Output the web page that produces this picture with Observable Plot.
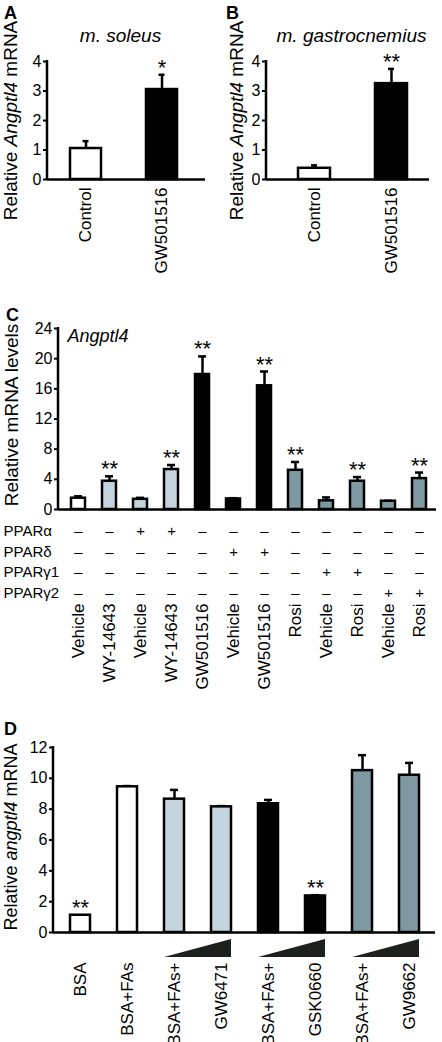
<!DOCTYPE html>
<html><head><meta charset="utf-8">
<script src="https://cdn.jsdelivr.net/npm/d3@7"></script>
<script src="https://cdn.jsdelivr.net/npm/@observablehq/plot@0.6"></script>
<style>
body{margin:0;background:#fff;}
#fig{position:relative;width:442px;height:1042px;overflow:hidden;background:#fff;font-family:"Liberation Sans",Arial,sans-serif;}
#fig svg{position:absolute;}
</style></head><body><div id="fig"></div>
<script>
// ---------- data ----------
const aLabels = ["Control", "GW501516"];
const aValues = [1.05, 3.05];
const aErrTops = [1.3, 3.55];
const aStars = ["", "*"];
const aGroups = ["none", "delta"];

const bLabels = ["Control", "GW501516"];
const bValues = [0.38, 3.25];
const bErrTops = [0.48, 3.75];
const bStars = ["", "**"];
const bGroups = ["none", "delta"];
const abTicks = [0, 1, 2, 3, 4];

const cLabels = ["Vehicle","WY-14643","Vehicle","WY-14643","GW501516","Vehicle","GW501516","Rosi","Vehicle","Rosi","Vehicle","Rosi"];
const cValues = [1.5, 3.75, 1.35, 5.3, 17.9, 1.4, 16.4, 5.2, 1.15, 3.75, 1.1, 4.1];
const cErrTops = [1.75, 4.4, 1.55, 5.9, 20.3, 1.5, 18.3, 6.3, 1.6, 4.3, 1.15, 4.9];
const cStars = ["","**","","**","**","","**","**","","**","","**"];
const cGroups = ["none","alpha","alpha","alpha","delta","delta","delta","gamma","gamma","gamma","gamma","gamma"];
const cRows = ["PPARα", "PPARδ", "PPARγ1", "PPARγ2"];
const cSigns = [
  ["–","–","+","+","–","–","–","–","–","–","–","–"],
  ["–","–","–","–","–","+","+","–","–","–","–","–"],
  ["–","–","–","–","–","–","–","–","+","+","–","–"],
  ["–","–","–","–","–","–","–","–","–","–","+","+"]
];
const cTicks = [0, 4, 8, 12, 16, 20, 24];

const dLabels = ["BSA","BSA+FAs","BSA+FAs+","GW6471","BSA+FAs+","GSK0660","BSA+FAs+","GW9662"];
const dValues = [1.12, 9.45, 8.65, 8.15, 8.35, 2.37, 10.5, 10.2];
const dErrTops = [1.12, 9.5, 9.25, 8.2, 8.6, 2.42, 11.5, 11.0];
const dStars = ["**","","","","","**","",""];
const dGroups = ["none","none","alpha","alpha","delta","delta","gamma","gamma"];
const dRamps = [[2, 3], [4, 5], [6, 7]];
const dTicks = [0, 2, 4, 6, 8, 10, 12];

const groupFill = {none: "#ffffff", alpha: "#c4d4de", delta: "#000000", gamma: "#7f99a3"};
const FONT = "'Liberation Sans', Arial, sans-serif";

// ---------- helpers ----------
const yAxisLine = (index, scales, values, dims) => {
  const g = d3.create("svg:g");
  g.append("line")
    .attr("x1", dims.marginLeft).attr("x2", dims.marginLeft)
    .attr("y1", dims.marginTop - 1).attr("y2", dims.height - dims.marginBottom)
    .attr("stroke", "#000").attr("stroke-width", 2.5);
  return g.node();
};

function italicize(svg, full, word) {
  const ns = "http://www.w3.org/2000/svg";
  svg.querySelectorAll("text").forEach(t => {
    if (t.textContent === full) {
      const [pre, post] = full.split(word);
      t.textContent = "";
      [[pre, false], [word, true], [post, false]].forEach(([s, it]) => {
        const ts = document.createElementNS(ns, "tspan");
        ts.textContent = s;
        if (it) ts.setAttribute("font-style", "italic");
        t.appendChild(ts);
      });
    }
  });
}

function barPanel(cfg) {
  const {labels, values, errTops, stars, groups, ticks, yMax, width, height,
    ml, mr, mt, mb, pInner, pOuter, align, capW, labelDy, extra = [],
    starSize = 22, tickFont = 16, labelFont = 17} = cfg;
  const rows = labels.map((label, i) => ({i, label, value: values[i], err: errTops[i], star: stars[i], fill: groupFill[groups[i]]}));
  const n = rows.length, L = width - ml - mr;
  const step = L / (n - pInner + 2 * pOuter), bw = step * (1 - pInner);
  const inset = Math.max(0, (bw - capW) / 2);
  const withErr = rows.filter(d => d.err > d.value);
  return Plot.plot({
    width, height, marginLeft: ml, marginRight: mr, marginTop: mt, marginBottom: mb,
    style: {fontFamily: FONT, fontSize: "16px", color: "#000", background: "transparent", overflow: "visible"},
    x: {type: "band", domain: d3.range(n), paddingInner: pInner, paddingOuter: pOuter, align, axis: null},
    y: {domain: [0, yMax]},
    color: {type: "identity"},
    marks: [
      Plot.ruleX(withErr, {x: "i", y1: "value", y2: "err", stroke: "#000", strokeWidth: 2.5}),
      Plot.tickY(withErr, {x: "i", y: "err", stroke: "#000", strokeWidth: 2.5, insetLeft: inset, insetRight: inset}),
      Plot.barY(rows, {x: "i", y: "value", fill: "fill", stroke: "#000", strokeWidth: 2.5}),
      Plot.text(rows.filter(d => d.star), {x: "i", y: "err", text: "star", lineAnchor: "middle", dy: -7, fontSize: starSize, fill: "#000"}),
      Plot.text(rows, {x: "i", text: "label", frameAnchor: "bottom", lineAnchor: "middle", rotate: -90, textAnchor: "end", dy: labelDy, fontSize: labelFont, fill: "#000"}),
      Plot.ruleY([0], {stroke: "#000", strokeWidth: 2.5}),
      yAxisLine,
      Plot.axisY({ticks, tickSize: 4, tickPadding: 2, strokeWidth: 2, fontSize: tickFont, label: null, tickFormat: d => String(d)}),
      ...extra
    ]
  });
}

function place(svg, left, top) {
  svg.style.left = left + "px";
  svg.style.top = top + "px";
  document.getElementById("fig").appendChild(svg);
}

const letter = (s, dx, dy) => Plot.text([s], {frameAnchor: "top-left", textAnchor: "middle", lineAnchor: "middle", dx, dy, fontSize: 18, fontWeight: "bold", fill: "#000"});
const yLabel = (s, dx, dy, size) => Plot.text([s], {frameAnchor: "left", textAnchor: "middle", lineAnchor: "middle", rotate: -90, dx, dy, fontSize: size, fill: "#000"});

// ---------- Panel A ----------
const svgA = barPanel({
  labels: aLabels, values: aValues, errTops: aErrTops, stars: aStars, groups: aGroups,
  ticks: abTicks, yMax: 4, width: 221, height: 285, ml: 47, mr: 16, mt: 61, mb: 106,
  pInner: 0.597, pOuter: 0.3245, align: 0.45, capW: 6, labelDy: 8,
  extra: [
    letter("A", -37, -48),
    Plot.text(["m. soleus"], {frameAnchor: "top", lineAnchor: "middle", dx: -6, dy: -26, fontSize: 19, fontStyle: "italic", fill: "#000"}),
    yLabel("Relative Angptl4 mRNA", -37, 0, 19)
  ]
});
italicize(svgA, "Relative Angptl4 mRNA", "Angptl4");
place(svgA, 0, 0);

// ---------- Panel B ----------
const svgB = barPanel({
  labels: bLabels, values: bValues, errTops: bErrTops, stars: bStars, groups: bGroups,
  ticks: abTicks, yMax: 4, width: 221, height: 285, ml: 45, mr: 13, mt: 61, mb: 106,
  pInner: 0.584, pOuter: 0.35, align: 0.59, capW: 6, labelDy: 8,
  extra: [
    letter("B", -34, -48),
    Plot.text(["m. gastrocnemius"], {frameAnchor: "top", lineAnchor: "middle", dx: 3.5, dy: -26, fontSize: 19, fontStyle: "italic", fill: "#000"}),
    yLabel("Relative Angptl4 mRNA", -30, 0, 19)
  ]
});
italicize(svgB, "Relative Angptl4 mRNA", "Angptl4");
place(svgB, 221, 0);

// ---------- Panel C ----------
const signRowDy = [22, 43, 63, 84];
const cSignMarks = cRows.flatMap((row, r) => [
  Plot.text([row], {frameAnchor: "bottom-left", textAnchor: "start", lineAnchor: "middle", dx: -55, dy: signRowDy[r], fontSize: 15, fill: "#000"}),
  Plot.text(cSigns[r].map((s, i) => ({i, s})), {x: "i", text: "s", frameAnchor: "bottom", lineAnchor: "middle", dy: signRowDy[r], fontSize: 15, fill: "#000"})
]);
const svgC = barPanel({
  labels: cLabels, values: cValues, errTops: cErrTops, stars: cStars, groups: cGroups,
  ticks: cTicks, yMax: 24, width: 442, height: 410, ml: 58, mr: 6, mt: 38, mb: 191,
  pInner: 0.555, pOuter: 0.287, align: 0.55, capW: 8, labelDy: 94,
  extra: [
    letter("C", -46, -13),
    Plot.text(["Angptl4"], {frameAnchor: "top-left", textAnchor: "start", lineAnchor: "middle", dx: 9, dy: 8, fontSize: 18, fontStyle: "italic", fill: "#000"}),
    yLabel("Relative mRNA levels", -47, -4, 19),
    ...cSignMarks
  ]
});
place(svgC, 0, 290);

// ---------- Panel D ----------
const wedges = (index, scales, values, dims) => {
  const g = d3.create("svg:g");
  const x = scales.x, bw = x.bandwidth();
  const yb = dims.height - dims.marginBottom;
  for (const [a, b] of dRamps) {
    const x0 = x(a), x1 = x(b) + bw;
    g.append("polygon")
      .attr("points", `${x0},${yb + 25} ${x1},${yb + 25} ${x1},${yb + 7}`)
      .attr("fill", "#1d211e");
  }
  return g.node();
};
const svgD = barPanel({
  labels: dLabels, values: dValues, errTops: dErrTops, stars: dStars, groups: dGroups,
  ticks: dTicks, yMax: 12, width: 442, height: 342, ml: 53, mr: 7, mt: 47, mb: 110,
  pInner: 0.58, pOuter: 0.30, align: 0.52, capW: 8, labelDy: 30,
  extra: [
    wedges,
    letter("D", -43, -18),
    yLabel("Relative angptl4 mRNA", -42, -3, 18)
  ]
});
italicize(svgD, "Relative angptl4 mRNA", "angptl4");
place(svgD, 0, 700);
</script>
</body></html>
